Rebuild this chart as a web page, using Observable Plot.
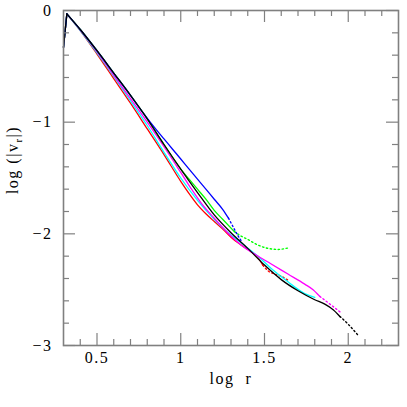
<!DOCTYPE html>
<html><head><meta charset="utf-8">
<script src="https://cdn.jsdelivr.net/npm/d3@7"></script>
<script src="https://cdn.jsdelivr.net/npm/@observablehq/plot@0.6"></script>
<style>body{margin:0;background:#fff} svg{display:block}</style>
</head><body><div id="chart"></div>
<script>
// ---- data: [log r, log |v_r|] ----
const redSolid = [[0.30,-0.33],[0.32,-0.03],[0.40,-0.18],[0.50,-0.39],[0.60,-0.61],[0.70,-0.83],[0.80,-1.06],[0.90,-1.29],[1.00,-1.53],[1.05,-1.64],[1.10,-1.74],[1.15,-1.82],[1.20,-1.89],[1.26,-1.97],[1.30,-2.03],[1.36,-2.10],[1.42,-2.16],[1.46,-2.21],[1.49,-2.28]];
const redDot = [[1.49,-2.28],[1.52,-2.33],[1.56,-2.36],[1.60,-2.38],[1.645,-2.42]];
const cyanSolid = [[0.30,-0.33],[0.32,-0.03],[0.40,-0.18],[0.50,-0.38],[0.60,-0.59],[0.70,-0.81],[0.80,-1.03],[0.90,-1.27],[1.00,-1.50],[1.10,-1.70],[1.20,-1.87],[1.26,-1.96],[1.36,-2.08],[1.46,-2.20],[1.54,-2.31],[1.64,-2.43],[1.74,-2.535],[1.80,-2.57]];
const magentaSolid = [[0.30,-0.33],[0.32,-0.03],[0.40,-0.175],[0.50,-0.37],[0.60,-0.58],[0.70,-0.79],[0.80,-1.00],[0.90,-1.22],[1.00,-1.45],[1.06,-1.59],[1.12,-1.72],[1.20,-1.86],[1.30,-2.02],[1.36,-2.10],[1.45,-2.19],[1.54,-2.27],[1.64,-2.36],[1.74,-2.45],[1.79,-2.50],[1.83,-2.56]];
const magentaDot = [[1.83,-2.56],[1.90,-2.64],[1.96,-2.71]];
const greenSolid = [[0.30,-0.33],[0.32,-0.03],[0.40,-0.17],[0.50,-0.36],[0.60,-0.56],[0.70,-0.76],[0.80,-0.97],[0.90,-1.20],[1.00,-1.42],[1.05,-1.51],[1.10,-1.60],[1.15,-1.69],[1.20,-1.79],[1.25,-1.87],[1.32,-1.98]];
const greenDot = [[1.32,-1.98],[1.36,-2.02],[1.40,-2.05],[1.46,-2.10],[1.52,-2.13],[1.58,-2.14],[1.645,-2.125]];
const blueSolid = [[0.30,-0.33],[0.32,-0.03],[0.40,-0.17],[0.50,-0.36],[0.60,-0.56],[0.70,-0.76],[0.78,-0.925],[0.85,-1.06],[0.90,-1.15],[0.95,-1.24],[1.00,-1.33],[1.05,-1.42],[1.10,-1.51],[1.15,-1.60],[1.20,-1.69],[1.25,-1.78],[1.285,-1.86]];
const blueDot = [[1.285,-1.86],[1.31,-1.93],[1.335,-2.00],[1.36,-2.06]];
const blackSolid = [[0.30,-0.33],[0.32,-0.03],[0.40,-0.17],[0.50,-0.36],[0.60,-0.56],[0.70,-0.76],[0.80,-0.97],[0.90,-1.20],[1.00,-1.42],[1.10,-1.63],[1.20,-1.83],[1.30,-1.99],[1.40,-2.13],[1.50,-2.28],[1.60,-2.41],[1.70,-2.51],[1.80,-2.59],[1.86,-2.63],[1.91,-2.68],[1.95,-2.74]];
const blackDot = [[1.95,-2.74],[2.00,-2.81],[2.065,-2.92]];

// ---- ticks ----
const xMajor = [0.5, 1, 1.5, 2];
const xMinor = [0.4,0.6,0.7,0.8,0.9,1.1,1.2,1.3,1.4,1.6,1.7,1.8,1.9,2.1,2.2];
const yMajor = [0, -1, -2, -3];
const yMinor = [-0.2,-0.4,-0.6,-0.8,-1.2,-1.4,-1.6,-1.8,-2.2,-2.4,-2.6,-2.8];
const xLabels = ["0.5", "1", "1.5", "2"];
const yLabels = ["0", "\u22121", "\u22122", "\u22123"];

const W = 407, H = 407, mL = 63, mR = 9, mT = 10, mB = 62;
const innerH = H - mT - mB, innerW = W - mL - mR;
const FONT = "'Liberation Serif', 'Times New Roman', serif";
const axisGrey = "#808080";
const majorLen = 12, minorLen = 6;

// the first segment (inner spike) is straight; the rest is a smooth curve
const solid = (data, color) => [
  Plot.line(data.slice(0, 2), {x: d => d[0], y: d => d[1], stroke: color, strokeWidth: 1.3}),
  Plot.line(data.slice(1), {x: d => d[0], y: d => d[1], stroke: color, strokeWidth: 1.3, curve: "monotone-x"})
];
const dotted = (data, color) => Plot.line(data, {x: d => d[0], y: d => d[1], stroke: color, strokeWidth: 1.4, strokeDasharray: "1.4,2.6", curve: "monotone-x"});

const chart = Plot.plot({
  width: W, height: H,
  marginLeft: mL, marginRight: mR, marginTop: mT, marginBottom: mB,
  style: {fontFamily: FONT, background: "#fff"},
  x: {domain: [0.3, 2.3], axis: null},
  y: {domain: [-3, 0], axis: null},
  marks: [
    solid(redSolid, "#ff0000"), dotted(redDot, "#ff0000"),
    solid(cyanSolid, "#00ffff"),
    solid(magentaSolid, "#ff00ff"), dotted(magentaDot, "#ff00ff"),
    solid(greenSolid, "#00ff00"), dotted(greenDot, "#00ff00"),
    solid(blueSolid, "#0000ff"), dotted(blueDot, "#0000ff"),
    solid(blackSolid, "#000000"), dotted(blackDot, "#000000"),
    // ticks (inward, all four sides)
    Plot.tickX(xMajor, {x: d => d, insetTop: innerH - majorLen, stroke: axisGrey, strokeWidth: 1.2}),
    Plot.tickX(xMajor, {x: d => d, insetBottom: innerH - majorLen, stroke: axisGrey, strokeWidth: 1.2}),
    Plot.tickX(xMinor, {x: d => d, insetTop: innerH - minorLen, stroke: axisGrey, strokeWidth: 1.2}),
    Plot.tickX(xMinor, {x: d => d, insetBottom: innerH - minorLen, stroke: axisGrey, strokeWidth: 1.2}),
    Plot.tickY(yMajor, {y: d => d, insetRight: innerW - majorLen, stroke: axisGrey, strokeWidth: 1.2}),
    Plot.tickY(yMajor, {y: d => d, insetLeft: innerW - majorLen, stroke: axisGrey, strokeWidth: 1.2}),
    Plot.tickY(yMinor, {y: d => d, insetRight: innerW - minorLen, stroke: axisGrey, strokeWidth: 1.2}),
    Plot.tickY(yMinor, {y: d => d, insetLeft: innerW - minorLen, stroke: axisGrey, strokeWidth: 1.2}),
    Plot.frame({stroke: axisGrey, strokeWidth: 1.6}),
    // tick labels
    Plot.text(xMajor, {x: d => d, frameAnchor: "bottom", dy: 17, text: (d, i) => xLabels[i], fontSize: 16, fill: "#000", fontFamily: FONT}),
    Plot.text(yMajor, {y: d => d, frameAnchor: "left", dx: -11, textAnchor: "end", text: (d, i) => yLabels[i], fontSize: 16, fill: "#000", fontFamily: FONT}),
    Plot.text(["log  r"], {frameAnchor: "bottom", dy: 38, text: d => d, fontSize: 16, fill: "#000", fontFamily: FONT})
  ]
});

const svg = d3.select(chart);
svg.selectAll("text").attr("letter-spacing", "1.5px");
const t = svg.append("text")
  .attr("transform", "translate(18,160) rotate(-90)")
  .attr("text-anchor", "middle")
  .attr("font-family", FONT)
  .attr("font-size", 16)
  .attr("letter-spacing", "1.5px")
  .attr("fill", "#000");
t.append("tspan").text("log (|v");
t.append("tspan").attr("dy", 4).attr("font-size", 11).text("r");
t.append("tspan").attr("dy", -4).text("|)");

document.getElementById("chart").appendChild(chart);
</script>
</body></html>
